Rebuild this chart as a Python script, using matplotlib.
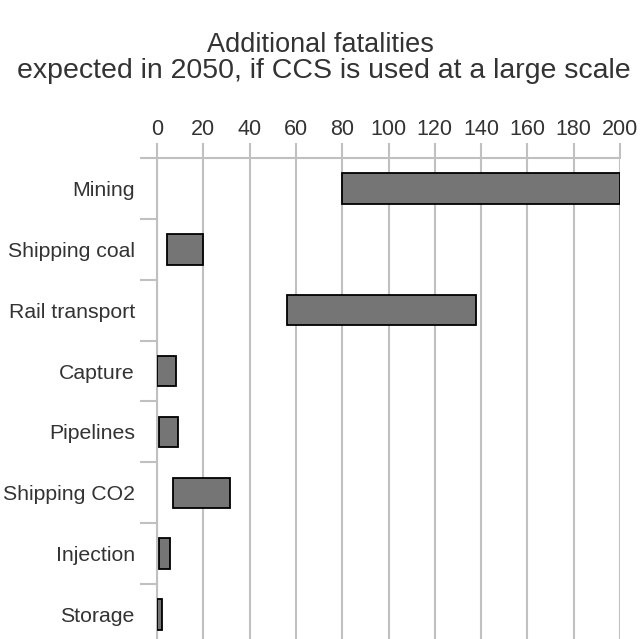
import numpy as np
import matplotlib
matplotlib.use('Agg')
import matplotlib.pyplot as plt

plt.rcParams['font.family'] = ['Liberation Sans', 'DejaVu Sans']

# floating bars: low and high estimate per step of the chain
categories = ['Mining', 'Shipping coal', 'Rail transport', 'Capture',
              'Pipelines', 'Shipping CO2', 'Injection', 'Storage']
low = [80, 4.5, 56, 0, 0.7, 7, 0.7, 0]
high = [200, 20, 138, 8, 9, 31.5, 5.5, 2]
xticks = [0, 20, 40, 60, 80, 100, 120, 140, 160, 180, 200]

grey = '#c0c0c0'
txt = '#333333'

fig = plt.figure(figsize=(6.41, 6.39), dpi=100)
ax = fig.add_axes([157/641, 1 - 645/639, (620 - 157)/641, (645 - 158)/639])

y = np.arange(len(categories))
widths = np.array(high) - np.array(low)
ax.barh(y, widths, left=low, height=0.5, color='#757575',
        edgecolor='black', linewidth=1.3, zorder=3)

ax.set_xlim(0, 200)
ax.set_ylim(len(categories) - 0.5, -0.5)

ax.xaxis.tick_top()
ax.set_xticks(xticks)
ax.tick_params(axis='x', length=11, width=1.5, color=grey, pad=2,
               labelsize=15.5, labelcolor=txt)
ax.grid(axis='x', color=grey, linewidth=1.5, zorder=0)

# tick marks between categories, labels centred on rows
ax.set_yticks(np.arange(len(categories) + 1) - 0.5)
ax.set_yticklabels([])
ax.set_yticks(y, minor=True)
ax.set_yticklabels(categories, minor=True)
ax.tick_params(axis='y', which='major', length=12, width=1.5, color=grey)
ax.tick_params(axis='y', which='minor', length=0, pad=16,
               labelsize=15.3, labelcolor=txt)

for s in ['right', 'bottom']:
    ax.spines[s].set_visible(False)
for s in ['left', 'top']:
    ax.spines[s].set_color(grey)
    ax.spines[s].set_linewidth(1.5)

fig.text(0.5, 1 - 45/639, 'Additional fatalities', ha='center', va='center',
         fontsize=19.5, color=txt)
fig.text(0.505, 1 - 71/639, 'expected in 2050, if CCS is used at a large scale',
         ha='center', va='center', fontsize=20.5, color=txt)

fig.savefig('out.png', dpi=100)
